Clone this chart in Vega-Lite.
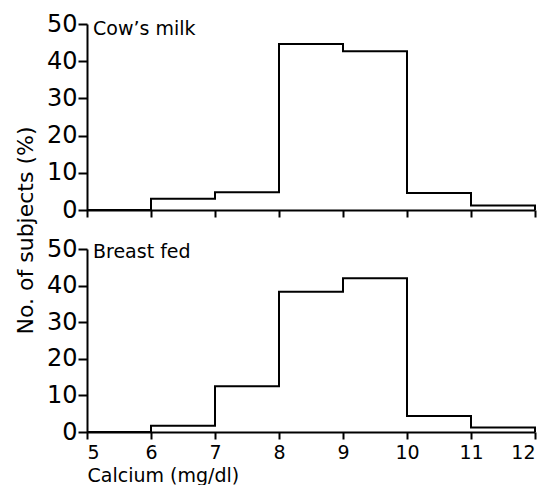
{
  "$schema": "https://vega.github.io/schema/vega-lite/v6.json",
  "background": "white",
  "padding": {"left": 14, "top": 12, "right": 8, "bottom": 0},
  "bounds": "flush",
  "config": {
    "font": "DejaVu Sans",
    "view": {"stroke": null},
    "axis": {
      "grid": false,
      "domainColor": "black",
      "domainWidth": 2,
      "tickColor": "black",
      "tickWidth": 2,
      "labelColor": "black",
      "titleColor": "black",
      "labelFontWeight": "normal",
      "titleFontWeight": "normal",
      "labelFont": "DejaVu Sans",
      "titleFont": "DejaVu Sans",
      "labelOverlap": false
    }
  },
  "datasets": {
    "hist": [
      {"group": "Cow's milk", "calcium": 5, "pct": 0},
      {"group": "Cow's milk", "calcium": 6, "pct": 3},
      {"group": "Cow's milk", "calcium": 7, "pct": 4.8},
      {"group": "Cow's milk", "calcium": 8, "pct": 44.6},
      {"group": "Cow's milk", "calcium": 9, "pct": 42.7},
      {"group": "Cow's milk", "calcium": 10, "pct": 4.6},
      {"group": "Cow's milk", "calcium": 11, "pct": 1.2},
      {"group": "Cow's milk", "calcium": 12, "pct": 0},
      {"group": "Breast fed", "calcium": 5, "pct": 0},
      {"group": "Breast fed", "calcium": 6, "pct": 1.7},
      {"group": "Breast fed", "calcium": 7, "pct": 12.5},
      {"group": "Breast fed", "calcium": 8, "pct": 38.3},
      {"group": "Breast fed", "calcium": 9, "pct": 42},
      {"group": "Breast fed", "calcium": 10, "pct": 4.4},
      {"group": "Breast fed", "calcium": 11, "pct": 1.2},
      {"group": "Breast fed", "calcium": 12, "pct": 0}
    ],
    "labels": [
      {"group": "Cow's milk", "label": "Cow’s milk"},
      {"group": "Breast fed", "label": "Breast fed"}
    ]
  },
  "spacing": 39,
  "vconcat": [
    {
      "width": 448,
      "height": 186,
      "layer": [
        {
          "data": {"name": "hist"},
          "transform": [{"filter": "datum.group === \"Cow's milk\""}],
          "mark": {"type": "line", "interpolate": "step-after", "color": "black", "strokeWidth": 2},
          "encoding": {
            "x": {"field": "calcium", "type": "quantitative", "scale": {"domain": [5, 12], "nice": false},
                  "axis": {"labels": false, "title": null, "values": [5, 6, 7, 8, 9, 10, 11, 12], "tickSize": 7}},
            "y": {"field": "pct", "type": "quantitative", "scale": {"domain": [0, 50], "nice": false},
                  "axis": {"values": [0, 10, 20, 30, 40, 50], "tickSize": 9, "labelFontSize": 24, "labelPadding": 1,
                           "title": "No. of subjects (%)", "titleFontSize": 22, "titleY": 206, "titlePadding": 9}}
          }
        },
        {
          "data": {"name": "labels"},
          "transform": [{"filter": "datum.group === \"Cow's milk\""}],
          "mark": {"type": "text", "align": "left", "baseline": "alphabetic", "dx": 6, "dy": 11, "fontSize": 19, "color": "black"},
          "encoding": {
            "x": {"datum": 5, "type": "quantitative", "scale": {"domain": [5, 12], "nice": false},
                  "axis": {"labels": false, "title": null, "values": [5, 6, 7, 8, 9, 10, 11, 12], "tickSize": 7}},
            "y": {"datum": 50, "type": "quantitative", "scale": {"domain": [0, 50], "nice": false},
                  "axis": {"values": [0, 10, 20, 30, 40, 50], "tickSize": 9, "labelFontSize": 24, "labelPadding": 1,
                           "title": "No. of subjects (%)", "titleFontSize": 22, "titleY": 206, "titlePadding": 9}},
            "text": {"field": "label"}
          }
        }
      ]
    },
    {
      "width": 448,
      "height": 183,
      "layer": [
        {
          "data": {"name": "hist"},
          "transform": [{"filter": "datum.group === 'Breast fed'"}],
          "mark": {"type": "line", "interpolate": "step-after", "color": "black", "strokeWidth": 2},
          "encoding": {
            "x": {"field": "calcium", "type": "quantitative", "scale": {"domain": [5, 12], "nice": false},
                  "axis": {"values": [5, 6, 7, 8, 9, 10, 11, 12], "format": "d", "tickSize": 7, "labelFontSize": 19, "labelPadding": 4,
                           "title": "Calcium (mg/dl)", "titleFontSize": 19, "titleAnchor": "start", "titleBaseline": "alphabetic", "titleY": 49}},
            "y": {"field": "pct", "type": "quantitative", "scale": {"domain": [0, 50], "nice": false},
                  "axis": {"values": [0, 10, 20, 30, 40, 50], "tickSize": 9, "labelFontSize": 24, "labelPadding": 1, "title": null}}
          }
        },
        {
          "data": {"name": "labels"},
          "transform": [{"filter": "datum.group === 'Breast fed'"}],
          "mark": {"type": "text", "align": "left", "baseline": "alphabetic", "dx": 6, "dy": 9, "fontSize": 19, "color": "black"},
          "encoding": {
            "x": {"datum": 5, "type": "quantitative", "scale": {"domain": [5, 12], "nice": false},
                  "axis": {"values": [5, 6, 7, 8, 9, 10, 11, 12], "format": "d", "tickSize": 7, "labelFontSize": 19, "labelPadding": 4,
                           "title": "Calcium (mg/dl)", "titleFontSize": 19, "titleAnchor": "start", "titleBaseline": "alphabetic", "titleY": 49}},
            "y": {"datum": 50, "type": "quantitative", "scale": {"domain": [0, 50], "nice": false},
                  "axis": {"values": [0, 10, 20, 30, 40, 50], "tickSize": 9, "labelFontSize": 24, "labelPadding": 1, "title": null}},
            "text": {"field": "label"}
          }
        }
      ]
    }
  ]
}
